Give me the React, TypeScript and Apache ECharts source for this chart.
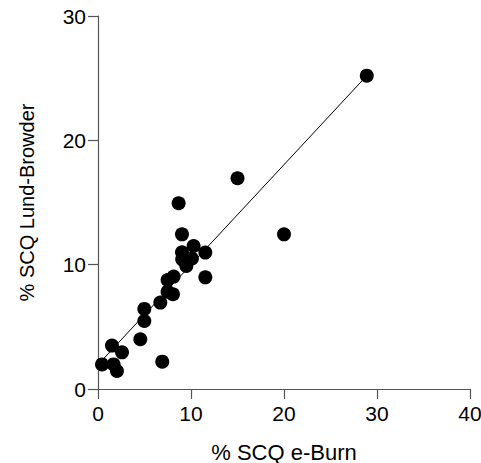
import React, { useEffect, useRef } from "react";
import * as echarts from "echarts";

const eBurn = [28.9, 15.0, 8.67, 9.03, 20.0, 10.28, 9.03, 11.54, 9.05, 10.1, 9.5, 11.54, 8.13, 7.48, 7.48, 8.06, 6.7, 4.98, 4.98, 4.55, 1.5, 2.58, 6.91, 0.43, 1.68, 2.04];
const lundBrowder = [25.2, 16.95, 14.94, 12.44, 12.44, 11.5, 11.0, 10.97, 10.43, 10.5, 9.9, 8.98, 9.04, 8.77, 7.83, 7.62, 6.95, 6.44, 5.47, 4.0, 3.49, 2.95, 2.2, 1.98, 1.98, 1.45];
const fitX = [0.43, 28.9];
const fitY = [2.3, 25.2];
const xTicks = [0, 10, 20, 30, 40];
const yTicks = [0, 10, 20, 30];

export default function App() {
  const ref = useRef<HTMLDivElement>(null);
  useEffect(() => {
    const chart = echarts.init(ref.current!, null, { renderer: "svg" });
    const font = "Liberation Sans, Arial, sans-serif";
    const axisCommon = {
      axisLine: { show: true, lineStyle: { color: "#555", width: 1.2 } },
      axisTick: { show: true, length: 10, lineStyle: { color: "#555", width: 1.2 } },
      splitLine: { show: false },
      nameLocation: "middle" as const,
    };
    chart.setOption({
      animation: false,
      grid: { left: 98, right: 11, top: 16, bottom: 74, containLabel: false, outerBoundsMode: "none" },
      xAxis: {
        ...axisCommon,
        type: "value",
        min: xTicks[0],
        max: xTicks[xTicks.length - 1],
        interval: 10,
        name: "% SCQ e-Burn",
        nameGap: 52,
        nameTextStyle: { color: "#000", fontSize: 22, fontFamily: font },
        axisLabel: { color: "#000", fontSize: 21, fontFamily: font, margin: 14 },
      },
      yAxis: {
        ...axisCommon,
        type: "value",
        min: yTicks[0],
        max: yTicks[yTicks.length - 1],
        interval: 10,
        name: "% SCQ Lund-Browder",
        nameGap: 61,
        nameTextStyle: { color: "#000", fontSize: 20, fontFamily: font },
        axisLabel: { color: "#000", fontSize: 21, fontFamily: font, margin: 12 },
      },
      series: [
        {
          type: "line",
          data: fitX.map((x, i) => [x, fitY[i]]),
          symbol: "none",
          lineStyle: { color: "#000", width: 1 },
          z: 1,
        },
        {
          type: "scatter",
          data: eBurn.map((x, i) => [x, lundBrowder[i]]),
          symbolSize: 14,
          itemStyle: { color: "#000", opacity: 1 },
          z: 2,
        },
      ],
    });
    return () => chart.dispose();
  }, []);
  return <div ref={ref} style={{ width: 481, height: 463, position: "absolute", left: 0, top: 0 }} />;
}
